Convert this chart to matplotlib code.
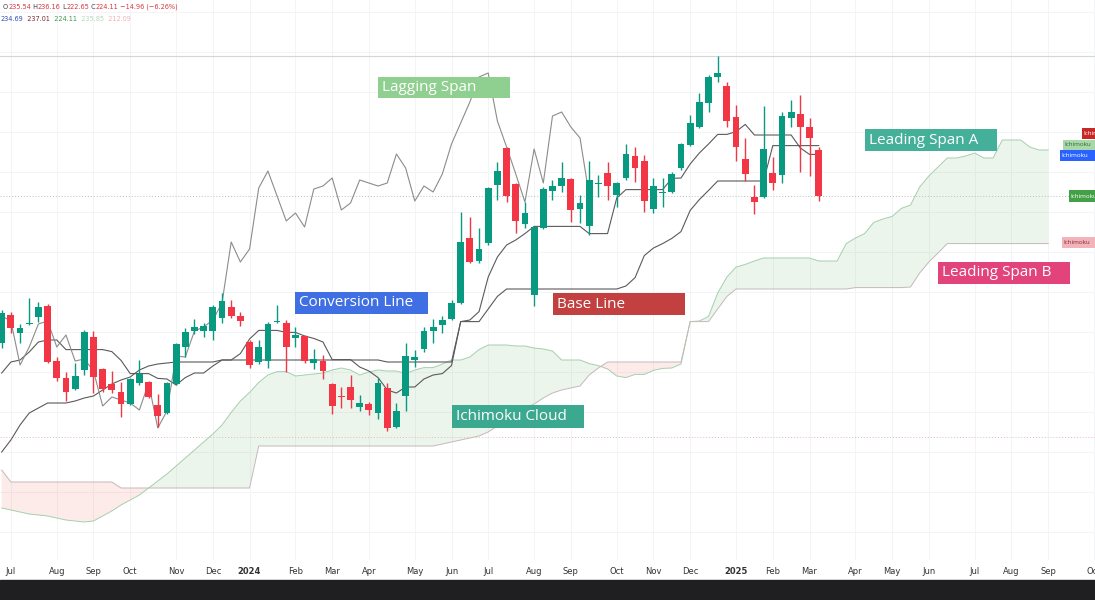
import matplotlib
matplotlib.use("Agg")
import matplotlib.pyplot as plt
from matplotlib.patches import Rectangle
import numpy as np
import pandas as pd

# weekly bars, first bar = week of 2023-06-26
start_date = "2023-06-26"

opens = [187.25, 194.25, 189.75, 192.0, 193.75, 196.5, 182.75, 178.5, 175.75, 180.5,
         188.75, 180.75, 177.0, 175.0, 172.0, 177.25, 177.5, 171.75, 169.75, 177.0,
         186.25, 190.25, 190.25, 190.25, 193.5, 196.25, 194.0, 187.5, 182.5, 182.75,
         192.5, 192.25, 188.5, 189.0, 182.25, 182.75, 177.0, 174.0, 176.25, 171.25,
         172.0, 169.75, 176.0, 166.25, 174.0, 183.0, 185.75, 190.25, 191.75, 193.25,
         197.25, 213.5, 207.75, 212.25, 226.75, 236.0, 227.0, 217.0, 199.25, 216.0,
         225.25, 226.5, 228.25, 220.75, 216.5, 227.0, 229.75, 224.25, 228.5, 234.0,
         232.75, 220.75, 224.75, 225.0, 231.0, 236.75, 241.25, 247.25, 253.75, 251.5,
         243.75, 233.25, 223.75, 223.75, 229.75, 229.25, 243.5, 244.5, 241.25, 235.54]
highs = [195.5, 195.0, 192.0, 198.5, 197.5, 197.0, 183.75, 180.0, 182.25, 190.5,
         190.25, 181.0, 180.25, 177.5, 178.5, 183.0, 177.75, 174.5, 177.5, 187.25,
         191.0, 193.25, 192.25, 196.75, 199.75, 198.0, 195.0, 188.0, 188.0, 192.5,
         196.75, 193.0, 191.25, 189.25, 185.75, 184.25, 177.25, 176.25, 179.25, 174.25,
         172.5, 178.5, 177.25, 172.25, 187.25, 185.5, 191.25, 193.25, 194.0, 198.0,
         220.0, 218.75, 216.0, 226.25, 232.5, 236.25, 227.25, 222.5, 216.5, 226.25,
         228.0, 232.5, 228.5, 224.25, 232.75, 229.25, 232.5, 227.5, 237.0, 236.25,
         234.25, 228.5, 228.5, 230.0, 237.25, 244.25, 249.75, 254.25, 259.0, 252.5,
         246.75, 238.5, 226.75, 246.5, 233.75, 245.0, 248.0, 249.25, 243.5, 236.16]
lows = [186.0, 189.75, 187.25, 191.75, 192.5, 182.25, 177.75, 172.75, 175.5, 179.25,
        174.75, 175.0, 174.75, 168.75, 171.75, 176.75, 173.5, 166.25, 169.5, 176.75,
        183.75, 189.5, 188.75, 188.0, 192.25, 193.5, 191.5, 181.0, 182.0, 181.0,
        192.25, 180.0, 186.25, 182.25, 180.75, 178.25, 169.5, 171.0, 171.0, 170.25,
        169.25, 168.25, 165.25, 166.0, 170.25, 181.25, 185.0, 187.25, 189.75, 193.0,
        197.0, 207.25, 207.25, 211.75, 223.0, 222.5, 214.75, 216.0, 196.5, 215.75,
        223.0, 225.0, 217.5, 217.25, 214.25, 223.75, 223.0, 221.25, 228.0, 227.5,
        220.0, 219.75, 221.25, 224.75, 230.5, 236.5, 241.0, 245.0, 252.5, 241.25,
        232.75, 227.75, 219.5, 223.5, 225.5, 227.25, 241.25, 230.0, 229.0, 222.65]
closes = [194.75, 191.0, 191.0, 192.25, 196.25, 182.5, 178.5, 175.0, 179.0, 190.0,
          178.75, 175.75, 175.5, 172.0, 178.25, 179.5, 173.75, 169.0, 177.25, 187.0,
          190.0, 191.25, 191.5, 196.25, 197.75, 194.0, 192.75, 181.75, 186.25, 192.0,
          192.75, 186.25, 189.25, 182.75, 183.25, 180.25, 171.5, 173.75, 173.0, 172.25,
          170.5, 177.25, 166.0, 170.25, 184.0, 183.75, 190.25, 191.25, 193.0, 197.25,
          212.5, 207.5, 210.75, 226.0, 230.25, 224.0, 217.75, 219.75, 216.25, 225.75,
          226.5, 228.5, 220.5, 222.25, 228.0, 227.25, 226.5, 227.25, 234.5, 231.0,
          222.75, 226.5, 225.0, 229.5, 237.0, 242.25, 247.5, 253.75, 254.75, 242.75,
          236.25, 229.5, 222.5, 235.75, 227.25, 244.0, 245.0, 241.25, 238.5, 224.11]

conversion = [179.75, 182.5, 183.0, 185.0, 187.5, 188.0, 188.0, 185.6, 185.6, 185.6,
              185.6, 185.6, 185.1, 182.9, 179.6, 179.6, 179.6, 178.4, 178.25, 176.75,
              178.6, 179.75, 179.75, 181.5, 183.0, 183.0, 184.6, 188.25, 190.4, 190.4,
              190.4, 189.9, 189.9, 189.0, 188.4, 187.5, 183.1, 183.1, 183.1, 181.25,
              180.25, 178.6, 175.5, 174.75, 176.25, 176.25, 178.25, 179.25, 179.6, 181.6,
              192.6, 193.0, 195.1, 203.75, 208.75, 211.75, 213.0, 214.6, 216.4, 216.4,
              216.4, 216.4, 216.4, 216.4, 214.6, 214.6, 214.6, 223.5, 225.6, 225.6,
              225.6, 225.6, 225.6, 228.4, 228.5, 232.0, 234.75, 237.0, 239.4, 239.4,
              240.1, 241.9, 239.25, 239.25, 239.25, 239.25, 239.25, 236.0, 234.4, 234.4]
base = [160.0, 163.0, 166.75, 169.75, 171.0, 172.25, 172.25, 172.25, 172.75, 173.5,
        174.0, 175.5, 177.0, 178.0, 178.75, 180.5, 181.5, 182.0, 182.25, 182.5,
        182.5, 182.5, 182.5, 182.5] + [183.0] * 18 + [182.5] * 8 + \
       [192.6, 192.6, 192.6, 195.75, 198.9] + [200.75] * 13 + \
       [201.5, 203.6, 209.1, 211.0, 212.1, 213.4, 215.1, 220.4, 223.1, 225.4] + \
       [227.75] * 6 + [236.6] * 6

# leading spans, already displaced 25 bars forward (115 points)
span_a = [146.0, 145.5, 145.0, 144.5, 144.25, 144.0, 143.5, 143.0, 142.75, 142.5,
          142.75, 144.0, 145.25, 146.75, 148.0, 149.25, 151.0, 152.75, 154.5, 156.5,
          158.5, 160.5, 162.5, 164.5, 166.75,
          169.9, 172.75, 174.9, 177.4, 179.25, 180.1, 180.1, 179.0, 179.25, 179.5,
          179.75, 180.5, 181.0, 180.5, 179.25, 180.0, 180.5, 180.25, 180.25, 179.6,
          180.5, 181.1, 181.1, 182.0, 183.0, 183.0, 183.75, 185.6, 186.75, 186.75,
          186.75, 186.5, 186.5, 186.0, 185.75, 185.25, 183.0, 183.0, 183.0, 182.1,
          181.6, 180.75, 179.0, 178.6, 179.4, 179.4, 180.4, 180.9, 181.0, 182.0,
          192.6, 192.75, 193.9, 199.75, 203.75, 206.25, 206.9, 207.75, 208.5, 208.5,
          208.5, 208.5, 208.5, 208.5, 207.75, 207.75, 207.75, 212.1, 213.5, 214.6,
          217.4, 218.25, 218.9, 220.9, 221.75, 226.25, 229.0, 231.25, 233.5, 233.5,
          234.0, 234.75, 233.5, 233.5, 238.0, 238.0, 238.0, 236.25, 235.5, 235.5]
span_b = [155.5] + [152.5] * 12 + [151.0] * 15 + [161.5] * 20 + \
         [162.0, 162.5, 163.0, 163.5, 164.0,
          165.0, 166.5, 168.0, 169.5, 171.0, 172.0, 173.5, 174.75, 175.5, 176.0,
          176.5, 179.25, 181.0] + [182.5] * 9 + [192.6] * 3 + [195.75, 198.9] + \
         [200.75] * 13 + [201.1] * 6 + [201.25, 204.75, 207.5, 209.75] + [212.1] * 12

lag_shift = 25

UP = "#089981"
DOWN = "#f23645"
W, H = 1095, 600
AX_H = 560

fig = plt.figure(figsize=(W / 100, H / 100), dpi=100)
ax = fig.add_axes([0, (H - AX_H) / H, 1, AX_H / H])

o = np.array(opens)
hi = np.array(highs)
lo = np.array(lows)
c = np.array(closes)
n = len(c)
x = np.arange(n)
xs = np.arange(len(span_a))
sa = np.array(span_a)
sb = np.array(span_b)

# cloud
ax.fill_between(xs, sa, sb, where=sa >= sb, interpolate=True, color="#43a047", alpha=0.10, lw=0)
ax.fill_between(xs, sa, sb, where=sa < sb, interpolate=True, color="#f44336", alpha=0.10, lw=0)
ax.plot(xs, sa, color="#a5cfae", lw=0.7)
ax.plot(xs, sb, color="#c7b8b8", lw=0.7)

# reference lines
ax.axhline(258.9, color="#d4d6da", lw=0.8)
ax.axhline(c[-1], color="#b9bcc4", lw=0.7, ls=(0, (1, 2)))
ax.axhline(163.75, color="#e2b9bd", lw=0.7, ls=(0, (1, 2)))

# ichimoku lines
ax.plot(x, conversion, color="#5a5a5a", lw=0.8)
ax.plot(x, base, color="#5a5a5a", lw=0.8)
ax.plot(x[:n - lag_shift], c[lag_shift:], color="#8c8c8c", lw=0.8)

# candles
col = np.where(c >= o, UP, DOWN)
ax.vlines(x, lo, hi, colors=col, lw=1.0, zorder=3)
body_lo = np.minimum(o, c)
body_h = np.maximum(np.abs(c - o), 0.3)
ax.bar(x, body_h, bottom=body_lo, width=0.74, color=col, lw=0, zorder=4)

# time axis
dates = pd.date_range(start_date, periods=120, freq="W-MON")
tick_pos, tick_lab, tick_bold = [], [], []
for i in range(1, len(dates)):
    if dates[i].month != dates[i - 1].month:
        tick_pos.append(i)
        if dates[i].month == 1:
            tick_lab.append(str(dates[i].year))
            tick_bold.append(True)
        else:
            tick_lab.append(dates[i].strftime("%b"))
            tick_bold.append(False)

ax.set_xlim(-0.185, 119.1)
ax.set_ylim(133, 273)
ax.set_xticks(tick_pos)
ax.set_xticklabels(tick_lab, fontsize=6, color="#333333")
for t, b in zip(ax.get_xticklabels(), tick_bold):
    if b:
        t.set_fontweight("bold")
ax.set_yticks(np.arange(140, 271, 10))
ax.tick_params(axis="x", length=0, pad=5)
ax.tick_params(axis="y", length=0, labelleft=False)
ax.grid(True, color="#f3f4f6", lw=0.7)
ax.set_axisbelow(True)
for s in ax.spines.values():
    s.set_visible(False)


def box(x0, y0, x1, y1, text, color, tcolor="white", fs=11, pad=4):
    ax.add_patch(Rectangle((x0 / W, 1 - y1 / AX_H), (x1 - x0) / W, (y1 - y0) / AX_H,
                           transform=ax.transAxes, color=color, lw=0, zorder=6))
    ax.text((x0 + pad) / W, 1 - (y0 + y1) / 2 / AX_H, text, transform=ax.transAxes,
            color=tcolor, fontsize=fs, va="center", ha="left", zorder=7,
            family="Open Sans")


box(378, 77, 510, 98, "Lagging Span", "#8fcf8f")
box(295, 292, 428, 314, "Conversion Line", "#3f6fe2")
box(553, 293, 685, 315, "Base Line", "#c2403f")
box(452, 405, 584, 428, "Ichimoku Cloud", "#3ba890")
box(865, 129, 997, 151, "Leading Span A", "#45b09a")
box(938, 262, 1070, 284, "Leading Span B", "#e2437a")

# price scale tags cut at the right edge
box(1082, 128, 1100, 139, "Ichimoku", "#c62828", fs=4.5, pad=1.5)
box(1063, 140, 1100, 150, "Ichimoku", "#a8d8aa", tcolor="#2e6b33", fs=4.5, pad=1.5)
box(1060, 150, 1100, 161, "Ichimoku", "#2962ff", fs=4.5, pad=1.5)
box(1069, 190, 1100, 202, "Ichimoku", "#43a047", fs=4.5, pad=1.5)
box(1062, 237, 1100, 248, "Ichimoku", "#f3b3ba", tcolor="#8a2a33", fs=4.5, pad=1.5)

# bottom dark bar
fig.patches.append(Rectangle((0, 0), 1, 20 / H, transform=fig.transFigure,
                             color="#1f1f22", zorder=10))

# legend header
fig.canvas.draw()
rend = fig.canvas.get_renderer()


def seg_line(x_px, y_px, parts):
    xp = x_px
    for s, colr in parts:
        t = fig.text(xp / W, 1 - y_px / H, s, color=colr, fontsize=4.7, va="center", ha="left")
        xp += t.get_window_extent(rend).width


dark = "#3a3d45"
red = "#d9343f"
seg_line(3, 7, [("O", dark), ("235.54", red), (" H", dark), ("236.16", red),
                (" L", dark), ("222.65", red), (" C", dark), ("224.11", red),
                (" \u221214.96 (\u22126.26%)", red)])
seg_line(0, 19, [("234.69", "#2f4fb5"), ("  237.01", "#7a2a30"), ("  224.11", "#3d9a47"),
                 ("  235.85", "#b3d8b6"), ("  212.09", "#f2b1b5")])

fig.savefig("out.png", dpi=100)
